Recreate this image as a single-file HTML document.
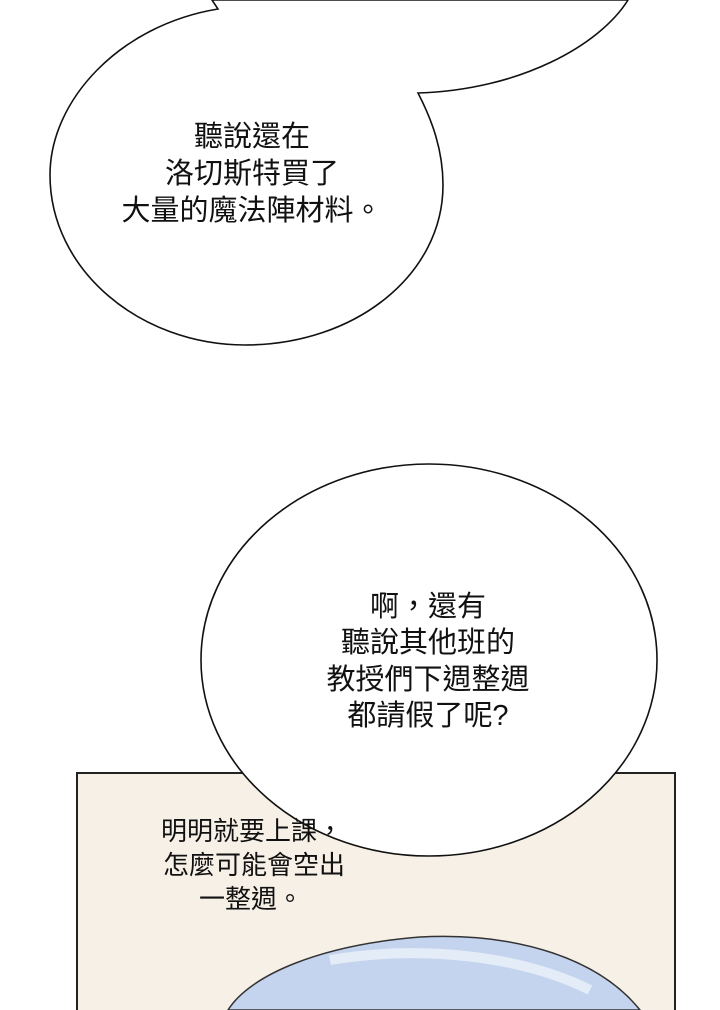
<!DOCTYPE html>
<html><head><meta charset="utf-8"><style>
html,body{margin:0;padding:0;background:#fff;width:720px;height:1010px;overflow:hidden}
svg{display:block}
text{font-family:"Liberation Sans","Noto Sans CJK TC",sans-serif;fill:#111}
</style></head><body>
<svg width="720" height="1010" viewBox="0 0 720 1010">
<rect x="77" y="773" width="598" height="250" fill="#f7f0e6" stroke="#222" stroke-width="2"/>
<path d="M228,1010 C250,975 320,945 420,937 C520,932 600,960 640,1010 Z" fill="#c5d4ee" stroke="#333" stroke-width="1.5"/>
<path d="M330,960 C420,945 520,955 590,990" fill="none" stroke="#e4ecf8" stroke-width="10"/>
<path d="M212,0 L218,9 C120,25 50,100 50,175 C50,270 140,345 245,345 C355,345 443,275 443,185 C443,150 432,120 418,93 C520,90 600,45 628,0 Z" fill="#fff" stroke="#111" stroke-width="1.6"/>
<ellipse cx="429" cy="660" rx="228" ry="196" fill="#fff" stroke="#111" stroke-width="1.6"/>
<g font-size="29" text-anchor="middle">
<text x="252" y="146">聽說還在</text>
<text x="252" y="183">洛切斯特買了</text>
<text x="252" y="220">大量的魔法陣材料。</text>
<text x="428" y="616">啊，還有</text>
<text x="428" y="652">聽說其他班的</text>
<text x="428" y="689">教授們下週整週</text>
<text x="428" y="725">都請假了呢?</text>
</g>
<g font-size="26" text-anchor="middle">
<text x="252" y="840">明明就要上課，</text>
<text x="254" y="874">怎麼可能會空出</text>
<text x="251" y="908">一整週。</text>
</g>
</svg>
</body></html>
